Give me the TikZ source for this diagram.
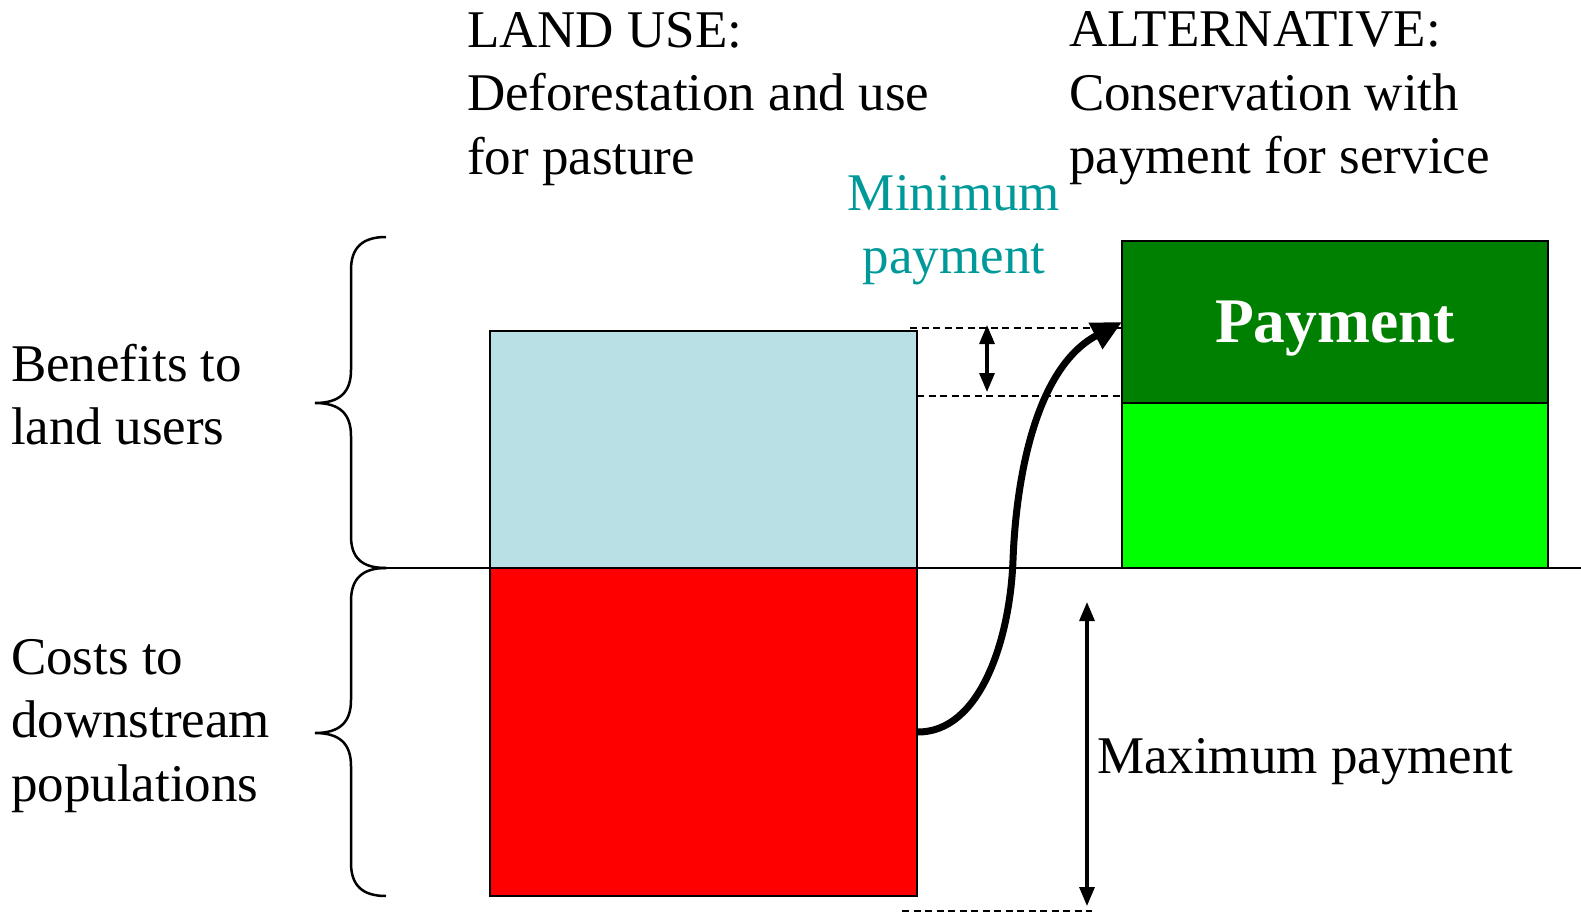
\documentclass[tikz,border=0pt]{standalone}
\usepackage{fontspec}
\setmainfont{Liberation Serif}
\usetikzlibrary{arrows.meta}
\definecolor{pasture}{RGB}{185,224,228}
\definecolor{downstream}{RGB}{255,0,0}
\definecolor{payment}{RGB}{0,128,0}
\definecolor{forest}{RGB}{0,255,0}
\definecolor{minimum}{RGB}{0,153,153}
\tikzstyle{every node} = [inner sep=0pt, outer sep=0pt]
\tikzstyle{bar} = [draw, line width=2pt, minimum width=427pt]
\tikzstyle{words} = [font=\fontsize{53}{63.5}\selectfont, align=left, anchor=north west]
\tikzstyle{guide} = [line width=1.5pt, dash pattern=on 7pt off 4.5pt]
\tikzstyle{span} = [line width=3.2pt, {Triangle[length=19pt,width=15pt]}-{Triangle[length=19pt,width=15pt]}]
\tikzstyle{curly} = [line width=2.5pt]

\begin{document}
\begin{tikzpicture}[x=1pt, y=-1pt]
            \useasboundingbox (0,0) rectangle (1581,912);

            % axis
            \draw[line width=1.5pt] (380,568) -- (1581,568);

            % land use
            \node[bar, fill=pasture, minimum height=237pt, anchor=north west] (benefit) at (490,331) {};
            \node[bar, fill=downstream, minimum height=328pt, anchor=north west] (cost) at (490,568) {};

            % alternative
            \node[bar, fill=payment, minimum width=426pt, minimum height=162pt, anchor=north west,
                text=white, text depth=-4pt, font=\fontsize{63.5}{70}\selectfont\bfseries] (payment) at (1122,241) {Payment};
            \node[bar, fill=forest, minimum width=426pt, minimum height=165pt, anchor=north west] (conserve) at (1122,403) {};

            % headings
            \node[words] (landuse) at (467,12) {LAND USE:\\Deforestation and use\\for pasture};
            \node[words] (alternative) at (1069,12) {ALTERNATIVE:\\Conservation with\\payment for service};
            \node[words, align=center, anchor=north, text=minimum] (minpay) at (954,175) {Minimum\\payment};

            % braces
            \draw[curly] (386,237) .. controls (362,237) and (351,248) .. (351,270) -- (351,370)
                .. controls (351,392) and (340,403) .. (315,403)
                .. controls (340,403) and (351,414) .. (351,436) -- (351,536)
                .. controls (351,558) and (362,568) .. (386,568);
            \draw[curly] (386,568) .. controls (362,568) and (351,579) .. (351,601) -- (351,700)
                .. controls (351,722) and (340,733) .. (315,733)
                .. controls (340,733) and (351,744) .. (351,766) -- (351,863)
                .. controls (351,885) and (362,896) .. (386,896);
            \node[words] (benefits) at (11,344) {Benefits to\\land users};
            \node[words] (costs) at (11,639) {Costs to\\downstream\\populations};

            % minimum payment
            \draw[guide] (910,328) -- (1121,328);
            \draw[guide] (917,396) -- (1121,396);
            \coordinate (mintop) at (987,325);
            \coordinate (minbottom) at (987,392);
            \draw[span] (mintop) -- (minbottom);

            % maximum payment
            \draw[guide] (902,911) -- (1092,911);
            \coordinate (maxtop) at (1087,602);
            \coordinate (maxbottom) at (1087,906);
            \draw[span] (maxtop) -- (maxbottom);
            \node[words] (maxpay) at (1097,738) {Maximum payment};

            % transfer
            \draw[line width=7pt, -{Triangle[length=30pt,width=28pt]}] (cost.east)
                .. controls (980,733) and (1010,640) .. (1013,560)
                .. controls (1016,480) and (1035,368) .. (payment.west);
\end{tikzpicture}
\end{document}
